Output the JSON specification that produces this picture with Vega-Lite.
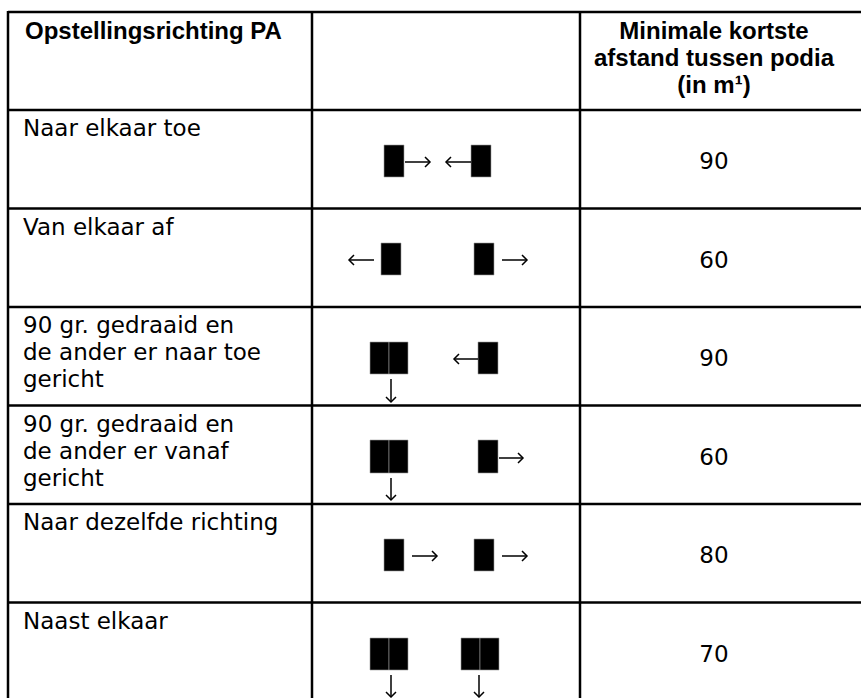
{
  "$schema": "https://vega.github.io/schema/vega-lite/v6.json",
  "width": 861,
  "height": 698,
  "padding": 0,
  "autosize": "none",
  "background": "white",
  "config": {"view": {"stroke": null}},
  "datasets": {
    "lines": [
      {"x": 8, "x2": 861, "y": 12, "y2": 12},
      {"x": 8, "x2": 861, "y": 110, "y2": 110},
      {"x": 8, "x2": 861, "y": 208.5, "y2": 208.5},
      {"x": 8, "x2": 861, "y": 307, "y2": 307},
      {"x": 8, "x2": 861, "y": 405.5, "y2": 405.5},
      {"x": 8, "x2": 861, "y": 504, "y2": 504},
      {"x": 8, "x2": 861, "y": 602.5, "y2": 602.5},
      {"x": 8, "x2": 8, "y": 11, "y2": 698},
      {"x": 312, "x2": 312, "y": 11, "y2": 698},
      {"x": 580, "x2": 580, "y": 11, "y2": 698}
    ],
    "blocks": [
      {"x": 384, "x2": 404, "y": 145, "y2": 177},
      {"x": 471, "x2": 491, "y": 145, "y2": 177},
      {"x": 381, "x2": 401, "y": 243, "y2": 275},
      {"x": 474, "x2": 494, "y": 243, "y2": 275},
      {"x": 370, "x2": 389, "y": 342, "y2": 374},
      {"x": 389, "x2": 408, "y": 342, "y2": 374},
      {"x": 478, "x2": 498, "y": 342, "y2": 374},
      {"x": 370, "x2": 389, "y": 440, "y2": 473},
      {"x": 389, "x2": 408, "y": 440, "y2": 473},
      {"x": 478, "x2": 498, "y": 440, "y2": 473},
      {"x": 384, "x2": 404, "y": 539, "y2": 571},
      {"x": 474, "x2": 494, "y": 539, "y2": 571},
      {"x": 370, "x2": 389, "y": 638, "y2": 670},
      {"x": 389, "x2": 408, "y": 638, "y2": 670},
      {"x": 461, "x2": 480, "y": 638, "y2": 670},
      {"x": 480, "x2": 499, "y": 638, "y2": 670}
    ],
    "arrows": [
      {"tx": 405, "ty": 162, "hx": 430, "hy": 162, "dir": "right"},
      {"tx": 471, "ty": 162, "hx": 446, "hy": 162, "dir": "left"},
      {"tx": 374, "ty": 260, "hx": 349, "hy": 260, "dir": "left"},
      {"tx": 502, "ty": 260, "hx": 527, "hy": 260, "dir": "right"},
      {"tx": 391, "ty": 379, "hx": 391, "hy": 402, "dir": "down"},
      {"tx": 478, "ty": 359, "hx": 454, "hy": 359, "dir": "left"},
      {"tx": 391, "ty": 478, "hx": 391, "hy": 500, "dir": "down"},
      {"tx": 499, "ty": 458, "hx": 523, "hy": 458, "dir": "right"},
      {"tx": 412, "ty": 556, "hx": 437, "hy": 556, "dir": "right"},
      {"tx": 502, "ty": 556, "hx": 527, "hy": 556, "dir": "right"},
      {"tx": 391, "ty": 675, "hx": 391, "hy": 697, "dir": "down"},
      {"tx": 479, "ty": 675, "hx": 479, "hy": 697, "dir": "down"}
    ],
    "headers": [
      {"x": 25, "y": 39, "text": "Opstellingsrichting PA", "pos": "left"},
      {"x": 714, "y": 39, "text": "Minimale kortste\nafstand tussen podia\n(in m¹)", "pos": "center"}
    ],
    "labels": [
      {"x": 23, "y": 136, "text": "Naar elkaar toe"},
      {"x": 23, "y": 234.5, "text": "Van elkaar af"},
      {"x": 23, "y": 333, "text": "90 gr. gedraaid en\nde ander er naar toe\ngericht"},
      {"x": 23, "y": 431.5, "text": "90 gr. gedraaid en\nde ander er vanaf\ngericht"},
      {"x": 23, "y": 530, "text": "Naar dezelfde richting"},
      {"x": 23, "y": 628.5, "text": "Naast elkaar"}
    ],
    "values": [
      {"x": 714, "y": 169, "text": "90"},
      {"x": 714, "y": 267.5, "text": "60"},
      {"x": 714, "y": 366, "text": "90"},
      {"x": 714, "y": 464.5, "text": "60"},
      {"x": 714, "y": 563, "text": "80"},
      {"x": 714, "y": 661.5, "text": "70"}
    ]
  },
  "layer": [
    {
      "data": {"name": "lines"},
      "mark": {"type": "rule", "color": "black", "strokeWidth": 2.5},
      "encoding": {
        "x": {"field": "x", "type": "quantitative", "scale": {"domain": [0, 861], "nice": false, "zero": false}, "axis": null},
        "x2": {"field": "x2"},
        "y": {"field": "y", "type": "quantitative", "scale": {"domain": [0, 698], "nice": false, "zero": false, "reverse": true}, "axis": null},
        "y2": {"field": "y2"}
      }
    },
    {
      "data": {"name": "blocks"},
      "mark": {"type": "rect", "color": "black", "stroke": "#9a9a9a", "strokeWidth": 0.6},
      "encoding": {
        "x": {"field": "x", "type": "quantitative", "axis": null},
        "x2": {"field": "x2"},
        "y": {"field": "y", "type": "quantitative", "axis": null},
        "y2": {"field": "y2"}
      }
    },
    {
      "data": {"name": "arrows"},
      "mark": {"type": "rule", "color": "black", "strokeWidth": 1.5},
      "encoding": {
        "x": {"field": "tx", "type": "quantitative", "axis": null},
        "x2": {"field": "hx"},
        "y": {"field": "ty", "type": "quantitative", "axis": null},
        "y2": {"field": "hy"}
      }
    },
    {
      "data": {"name": "arrows"},
      "transform": [{"filter": "datum.dir === 'right'"}],
      "mark": {"type": "point", "shape": "M-1,-1L0,0L-1,1", "filled": false, "color": "black", "strokeWidth": 1.5, "size": 100, "opacity": 1, "angle": 0},
      "encoding": {
        "x": {"field": "hx", "type": "quantitative", "axis": null},
        "y": {"field": "hy", "type": "quantitative", "axis": null}
      }
    },
    {
      "data": {"name": "arrows"},
      "transform": [{"filter": "datum.dir === 'left'"}],
      "mark": {"type": "point", "shape": "M-1,-1L0,0L-1,1", "filled": false, "color": "black", "strokeWidth": 1.5, "size": 100, "opacity": 1, "angle": 180},
      "encoding": {
        "x": {"field": "hx", "type": "quantitative", "axis": null},
        "y": {"field": "hy", "type": "quantitative", "axis": null}
      }
    },
    {
      "data": {"name": "arrows"},
      "transform": [{"filter": "datum.dir === 'down'"}],
      "mark": {"type": "point", "shape": "M-1,-1L0,0L-1,1", "filled": false, "color": "black", "strokeWidth": 1.5, "size": 100, "opacity": 1, "angle": 90},
      "encoding": {
        "x": {"field": "hx", "type": "quantitative", "axis": null},
        "y": {"field": "hy", "type": "quantitative", "axis": null}
      }
    },
    {
      "data": {"name": "headers"},
      "transform": [{"filter": "datum.pos === 'left'"}],
      "mark": {"type": "text", "align": "left", "baseline": "alphabetic", "font": "Liberation Sans", "fontWeight": "bold", "fontSize": 24, "color": "black", "lineBreak": "\n", "lineHeight": 27},
      "encoding": {
        "x": {"field": "x", "type": "quantitative", "axis": null},
        "y": {"field": "y", "type": "quantitative", "axis": null},
        "text": {"field": "text"}
      }
    },
    {
      "data": {"name": "headers"},
      "transform": [{"filter": "datum.pos === 'center'"}],
      "mark": {"type": "text", "align": "center", "baseline": "alphabetic", "font": "Liberation Sans", "fontWeight": "bold", "fontSize": 24, "color": "black", "lineBreak": "\n", "lineHeight": 27},
      "encoding": {
        "x": {"field": "x", "type": "quantitative", "axis": null},
        "y": {"field": "y", "type": "quantitative", "axis": null},
        "text": {"field": "text"}
      }
    },
    {
      "data": {"name": "labels"},
      "mark": {"type": "text", "align": "left", "baseline": "alphabetic", "font": "DejaVu Sans", "fontSize": 23, "color": "black", "lineBreak": "\n", "lineHeight": 27},
      "encoding": {
        "x": {"field": "x", "type": "quantitative", "axis": null},
        "y": {"field": "y", "type": "quantitative", "axis": null},
        "text": {"field": "text"}
      }
    },
    {
      "data": {"name": "values"},
      "mark": {"type": "text", "align": "center", "baseline": "alphabetic", "font": "DejaVu Sans", "fontSize": 23, "color": "black"},
      "encoding": {
        "x": {"field": "x", "type": "quantitative", "axis": null},
        "y": {"field": "y", "type": "quantitative", "axis": null},
        "text": {"field": "text"}
      }
    }
  ]
}
